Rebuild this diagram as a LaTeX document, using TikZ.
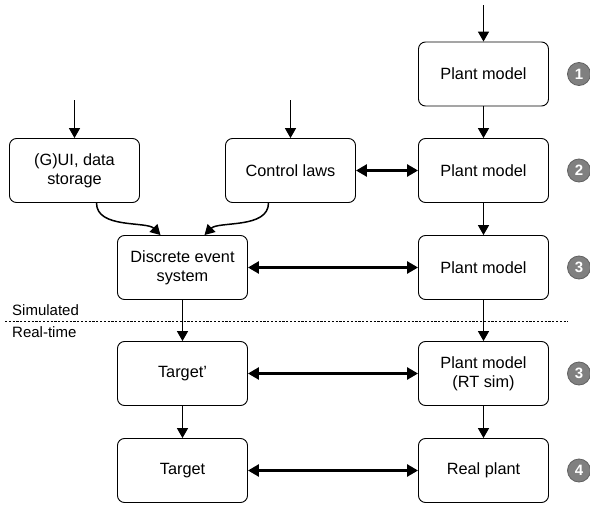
\documentclass[tikz,border=0pt]{standalone}
\usepackage{fontspec}
\setmainfont{Liberation Sans}
\usetikzlibrary{arrows.meta}
\begin{document}
\begin{tikzpicture}[x=1pt,y=-1pt,
  blk/.style={draw, rounded corners=7pt, minimum width=130pt, minimum height=64pt,
    line width=0.9pt, align=center, inner sep=2pt, font=\fontsize{16.3}{19}\selectfont},
  flow/.style={line width=1.5pt, -{Triangle[length=10pt,width=11pt]}},
  both/.style={line width=2.5pt, {Triangle[length=11pt,width=12pt]}-{Triangle[length=11pt,width=12pt]}},
  num/.style={circle, fill={rgb,255:red,128;green,128;blue,128}, draw={rgb,255:red,96;green,96;blue,96},
    line width=0.8pt, minimum size=23pt, inner sep=0pt, text=white, font=\fontsize{15}{15}\bfseries\selectfont},
  lbl/.style={anchor=base west, inner sep=0pt, font=\fontsize{15}{18}\selectfont}
]
\useasboundingbox[clip] (0,0) rectangle (590,506);
\fill[white] (0,0) rectangle (590,506);

\node[blk] (pm1) at (483.5,74) {Plant model};
\node[blk] (pm2) at (483.5,170.5) {Plant model};
\node[blk] (pm3) at (483.5,267.5) {Plant model};
\node[blk] (pmrt) at (483.5,373.5) {Plant model\\(RT sim)};
\node[blk] (rp) at (483.5,470.5) {Real plant};
\node[blk] (gui) at (74.5,170.5) {(G)UI, data\\storage};
\node[blk] (cl) at (290.5,170.5) {Control laws};
\node[blk] (des) at (182.5,267.5) {Discrete event\\system};
\node[blk] (tp) at (182.5,373.5) {Target’};
\node[blk] (t) at (182.5,470.5) {Target};

\node[num] (n1) at (579,74) {1};
\node[num] (n2) at (579,170.5) {2};
\node[num] (n3) at (579,267.5) {3};
\node[num] (n3b) at (579,373.5) {3};
\node[num] (n4) at (579,470.5) {4};

\coordinate (inpm) at (483.5,5);
\coordinate (ingui) at (74.5,100);
\coordinate (incl) at (290.5,100);

\draw[flow] (inpm) -- (pm1.north);
\draw[flow] (ingui) -- (gui.north);
\draw[flow] (incl) -- (cl.north);
\draw[flow] (pm1) -- (pm2);
\draw[flow] (pm2) -- (pm3);
\draw[flow] (pm3) -- (pmrt);
\draw[flow] (pmrt) -- (rp);
\draw[flow] (des) -- (tp);
\draw[flow] (tp) -- (t);

\draw[flow] ([xshift=22pt]gui.south) .. controls ([xshift=22pt,yshift=-26pt]gui.south) and ([xshift=-36pt,yshift=14pt]des.north) .. ([xshift=-22pt]des.north);
\draw[flow] ([xshift=-22pt]cl.south) .. controls ([xshift=-22pt,yshift=-26pt]cl.south) and ([xshift=36pt,yshift=14pt]des.north) .. ([xshift=22pt]des.north);

\draw[both] (cl) -- (pm2);
\draw[both] (des) -- (pm3);
\draw[both] (tp) -- (pmrt);
\draw[both] (t) -- (rp);

\coordinate (dl) at (5,321);
\coordinate (dr) at (568,321);
\draw[line width=0.7pt, dash pattern=on 2.2pt off 1.6pt] (dl) -- (dr);
\node[lbl] (sim) at (12,315) {Simulated};
\node[lbl] (rt) at (12,337) {Real-time};
\end{tikzpicture}
\end{document}
